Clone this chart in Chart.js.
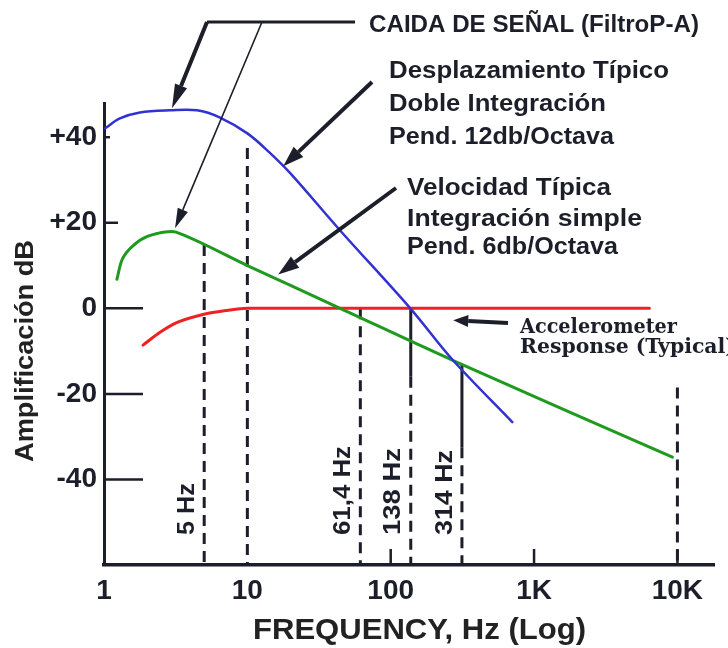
<!DOCTYPE html>
<html>
<head>
<meta charset="utf-8">
<script src="https://cdn.jsdelivr.net/npm/chart.js@4.4.1/dist/chart.umd.min.js"></script>
<style>
  html, body { margin: 0; padding: 0; background: #fff; }
  canvas { display: block; }
</style>
</head>
<body>
<canvas id="chart" width="728" height="648"></canvas>
<script>
// ---- Response curves: frequency (Hz) / gain (dB) ----
const displacementHz = [1.02, 1.29, 1.78, 2.89, 4.46, 6.45, 10, 14, 19.9, 44.4, 137, 273, 705];
const displacementDb = [42.1, 44.4, 45.8, 46.3, 46.3, 44.6, 40.9, 36.7, 31.6, 18.2, 0, -12.2, -26.6];

const velocityHz = [1.23, 1.36, 1.78, 2.35, 3.18, 10, 44.4, 273, 9230];
const velocityDb = [6.8, 11.9, 15.9, 17.5, 17.8, 10.0, 0, -12.2, -34.8];

const accelHz = [1.87, 2.46, 3.13, 4.68, 7.2, 10, 6380];
const accelDb = [-8.6, -5.6, -3.5, -1.6, -0.5, 0, 0];

// ---- Reference frequencies (vertical dashed lines) ----
const markerHz = [5, 10, 61.4, 138, 314, 10000];
const markerTopDb = [14.8, 37.5, 0, 0, -13.1, -18.5];
const markerSolidToDb = [null, null, null, -16, -32.5, null];
const markerText = ['5 Hz', '', '61,4 Hz', '138 Hz', '314 Hz', ''];

// ---- Axes ----
const xTickHz = [1, 10, 100, 1000, 10000];
const xTickLabels = ['1', '10', '100', '1K', '10K'];
const xTickMarkHz = [100, 1000, 10000];
const yTickDb = [40, 20, 0, -20, -40];
const yTickLabels = ['+40', '+20', '0', '-20', '-40'];
const xTitle = 'FREQUENCY, Hz (Log)';
const yTitle = 'Amplificación dB';

// ---- Callout texts ----
const filterNote = 'CAIDA DE SEÑAL (FiltroP-A)';
const displacementNote = ['Desplazamiento Típico', 'Doble Integración', 'Pend. 12db/Octava'];
const velocityNote = ['Velocidad Típica', 'Integración simple', 'Pend. 6db/Octava'];
const accelNote = ['Accelerometer', 'Response (Typical)'];

// Arrow tips, in data coordinates (Hz, dB)
const arrowTipHz = [2.98, 3.13, 17.8, 16.4, 273];
const arrowTipDb = [46.8, 18.7, 33.2, 7.9, -2.8];

// ---- Styling / layout ----
const INK = '#1c1f29';
const SANS = '"Liberation Sans", Arial, sans-serif';
const SERIF = '"DejaVu Serif Condensed", "DejaVu Serif", serif';
const STYLE = {
  yTickLen: [6, 14, 39, 39, 39],
  xTickLen: 16,
  markerLabelOffset: 17,
  markerLabelBottom: 535,
  markerLabelW: [52, 0, 89, 87, 85, 0],
  arrows: [
    { tail: [207, 22], lw: 4, head: 24, hw: 13 },
    { tail: [262, 22], lw: 1.6, head: 20, hw: 11 },
    { tail: [372, 82], lw: 4, head: 21, hw: 14 },
    { tail: [396, 188], lw: 4, head: 21, hw: 14 },
    { tail: [508, 323], lw: 4, head: 15, hw: 12 }
  ],
  bracket: [[207, 22], [355, 22]],
  filterNote: { x: 369, y: 32, w: 330, font: 'bold 23px ' + SANS },
  displacementNote: { x: 389, y: [78, 111, 144], w: [280, 217, 225], font: 'bold 23px ' + SANS },
  velocityNote: { x: 407, y: [195, 226, 254], w: [204, 235, 211], font: 'bold 23px ' + SANS },
  accelNote: { x: 520, y: [333, 353], w: [157, 215], font: 'bold 21px ' + SERIF },
  xTitle: { x: 253, y: 639, w: 333, font: 'bold 30px ' + SANS },
  yTitle: { x: 26, y: 462, w: 222, font: 'bold 26px ' + SANS }
};

const toPoints = (xs, ys) => xs.map((v, i) => ({ x: v, y: ys[i] }));

function curve(label, xs, ys, color, width, smooth) {
  const ds = {
    label, data: toPoints(xs, ys), borderColor: color, borderWidth: width,
    pointRadius: 0, fill: false,
    borderCapStyle: 'round', borderJoinStyle: 'round', order: 0
  };
  if (smooth === 'monotone') ds.cubicInterpolationMode = 'monotone';
  else ds.tension = smooth;
  return ds;
}

const markerSets = [];
markerHz.forEach((f, i) => {
  const top = markerTopDb[i];
  const solid = markerSolidToDb[i];
  const base = { borderColor: INK, borderWidth: 3, pointRadius: 0, fill: false, tension: 0, order: 1 };
  if (solid !== null) {
    markerSets.push(Object.assign({ label: 'm' + i + 's', data: [{ x: f, y: top }, { x: f, y: solid }] }, base));
    markerSets.push(Object.assign({ label: 'm' + i + 'd', data: [{ x: f, y: solid }, { x: f, y: -60 }], borderDash: [11, 7] }, base));
  } else {
    markerSets.push(Object.assign({ label: 'm' + i, data: [{ x: f, y: top }, { x: f, y: -60 }], borderDash: [11, 7] }, base));
  }
});

function fitText(ctx, str, x, y, w, font, rot) {
  ctx.save();
  ctx.font = font;
  ctx.textAlign = 'left';
  const m = ctx.measureText(str).width;
  ctx.translate(x, y);
  if (rot) ctx.rotate(rot);
  ctx.scale(w / m, 1);
  ctx.fillText(str, 0, 0);
  ctx.restore();
}

function arrow(ctx, x0, y0, x1, y1, lw, headLen, headW) {
  const a = Math.atan2(y1 - y0, x1 - x0);
  const bx = x1 - headLen * Math.cos(a), by = y1 - headLen * Math.sin(a);
  ctx.lineWidth = lw;
  ctx.beginPath(); ctx.moveTo(x0, y0); ctx.lineTo(bx, by); ctx.stroke();
  ctx.beginPath();
  ctx.moveTo(x1, y1);
  ctx.lineTo(bx + headW / 2 * Math.sin(a), by - headW / 2 * Math.cos(a));
  ctx.lineTo(bx - headW / 2 * Math.sin(a), by + headW / 2 * Math.cos(a));
  ctx.closePath(); ctx.fill();
}

const decorations = {
  id: 'decorations',
  afterDraw(chart) {
    const { ctx } = chart;
    const xs = chart.scales.x, ys = chart.scales.y;
    const area = chart.chartArea;
    ctx.save();
    ctx.strokeStyle = INK; ctx.fillStyle = INK; ctx.lineCap = 'butt';

    // inward tick marks
    ctx.lineWidth = 2.5;
    yTickDb.forEach((v, i) => {
      const py = ys.getPixelForValue(v);
      ctx.beginPath(); ctx.moveTo(area.left, py); ctx.lineTo(area.left + STYLE.yTickLen[i], py); ctx.stroke();
    });
    xTickMarkHz.forEach(v => {
      const px = xs.getPixelForValue(v);
      ctx.beginPath(); ctx.moveTo(px, area.bottom); ctx.lineTo(px, area.bottom - STYLE.xTickLen); ctx.stroke();
    });

    // frequency labels beside the reference lines
    ctx.textBaseline = 'middle';
    markerText.forEach((t, i) => {
      if (!t) return;
      const px = xs.getPixelForValue(markerHz[i]) - STYLE.markerLabelOffset;
      fitText(ctx, t, px, STYLE.markerLabelBottom, STYLE.markerLabelW[i], 'bold 24px ' + SANS, -Math.PI / 2);
    });

    // axis titles
    ctx.textBaseline = 'alphabetic';
    ctx.fillStyle = '#222';
    fitText(ctx, xTitle, STYLE.xTitle.x, STYLE.xTitle.y, STYLE.xTitle.w, STYLE.xTitle.font);
    ctx.textBaseline = 'middle';
    fitText(ctx, yTitle, STYLE.yTitle.x, STYLE.yTitle.y, STYLE.yTitle.w, STYLE.yTitle.font, -Math.PI / 2);

    // callout texts
    ctx.fillStyle = INK;
    ctx.textBaseline = 'alphabetic';
    const fn = STYLE.filterNote;
    fitText(ctx, filterNote, fn.x, fn.y, fn.w, fn.font);
    [[displacementNote, STYLE.displacementNote], [velocityNote, STYLE.velocityNote], [accelNote, STYLE.accelNote]]
      .forEach(([lines, st]) => lines.forEach((t, i) => fitText(ctx, t, st.x, st.y[i], st.w[i], st.font)));

    // callout arrows
    ctx.lineWidth = 3;
    ctx.beginPath();
    ctx.moveTo(STYLE.bracket[0][0], STYLE.bracket[0][1]);
    ctx.lineTo(STYLE.bracket[1][0], STYLE.bracket[1][1]);
    ctx.stroke();
    STYLE.arrows.forEach((a, i) => {
      const tx = xs.getPixelForValue(arrowTipHz[i]);
      const ty = ys.getPixelForValue(arrowTipDb[i]);
      arrow(ctx, a.tail[0], a.tail[1], tx, ty, a.lw, a.head, a.hw);
    });
    ctx.restore();
  }
};

const tickFont = { family: SANS, size: 28, weight: 'bold' };

new Chart(document.getElementById('chart'), {
  type: 'line',
  data: {
    datasets: [
      curve('Desplazamiento', displacementHz, displacementDb, '#3232d2', 2.5, 0.35),
      curve('Velocidad', velocityHz, velocityDb, '#1f9a1f', 3, 0.3),
      curve('Accelerometer', accelHz, accelDb, '#ee2222', 3, 'monotone'),
      ...markerSets
    ]
  },
  options: {
    responsive: false,
    devicePixelRatio: 1,
    animation: false,
    events: [],
    layout: { padding: { top: 103, right: 14, left: 0, bottom: 0 } },
    plugins: { legend: { display: false }, tooltip: { enabled: false } },
    scales: {
      x: {
        type: 'logarithmic', min: 1, max: 18000,
        afterBuildTicks: s => { s.ticks = xTickHz.map(v => ({ value: v })); },
        afterFit: s => { s.height = 83; },
        grid: { display: false, drawTicks: false, tickLength: 0 },
        border: { display: true, color: INK, width: 3.5 },
        ticks: {
          autoSkip: false, maxRotation: 0, padding: 9, color: INK, font: tickFont,
          callback: (v, i) => xTickLabels[i]
        }
      },
      y: {
        type: 'linear', min: -60, max: 48,
        afterBuildTicks: s => { s.ticks = yTickDb.map(v => ({ value: v })); },
        afterFit: s => { s.width = 104; },
        grid: { display: false, drawTicks: false, tickLength: 0 },
        border: { display: true, color: INK, width: 3 },
        ticks: {
          padding: 7, color: INK, font: tickFont,
          callback: (v, i) => yTickLabels[i]
        }
      }
    }
  },
  plugins: [decorations]
});
</script>
</body>
</html>
